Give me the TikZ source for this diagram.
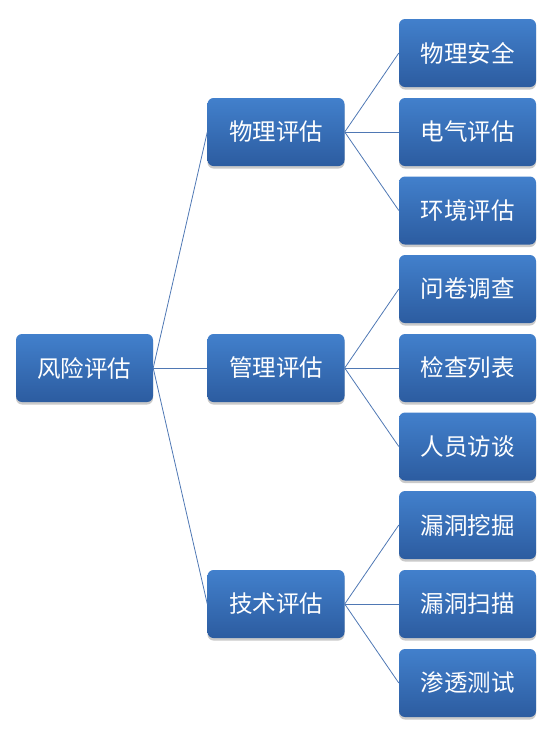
\documentclass[tikz,border=0pt]{standalone}
\usepackage{fontspec}
\newfontfamily\cjk{Noto Sans CJK SC}
\usetikzlibrary{shadows}
\definecolor{boxtop}{RGB}{66,128,204}
\definecolor{boxbot}{RGB}{44,92,160}
\definecolor{linec}{RGB}{79,120,180}
\begin{document}
\begin{tikzpicture}[x=1pt,y=-1pt,
  box/.style={rounded corners=6pt, minimum width=137pt, minimum height=68pt,
    top color=boxtop, bottom color=boxbot, text=white, inner sep=0pt,
    font=\cjk\fontsize{23.5}{27}\selectfont,
    drop shadow={shadow xshift=0pt, shadow yshift=-2.5pt, opacity=0.35, fill=black!60}},
  conn/.style={draw=linec, line width=0.8pt}]
\useasboundingbox (0,0) rectangle (558,732);
\node[box] (root) at (84.5,368) {风险评估};
\node[box] (m1) at (276,132) {物理评估};
\node[box] (m2) at (276,368) {管理评估};
\node[box] (m3) at (276,604) {技术评估};
\node[box] (r1) at (467.5,53) {物理安全};
\node[box] (r2) at (467.5,132) {电气评估};
\node[box] (r3) at (467.5,210.5) {环境评估};
\node[box] (r4) at (467.5,289) {问卷调查};
\node[box] (r5) at (467.5,368) {检查列表};
\node[box] (r6) at (467.5,446.5) {人员访谈};
\node[box] (r7) at (467.5,525) {漏洞挖掘};
\node[box] (r8) at (467.5,604) {漏洞扫描};
\node[box] (r9) at (467.5,683) {渗透测试};
\foreach \m in {m1,m2,m3} \draw[conn] (root.east) -- (\m.west);
\foreach \r in {r1,r2,r3} \draw[conn] (m1.east) -- (\r.west);
\foreach \r in {r4,r5,r6} \draw[conn] (m2.east) -- (\r.west);
\foreach \r in {r7,r8,r9} \draw[conn] (m3.east) -- (\r.west);
\end{tikzpicture}
\end{document}
